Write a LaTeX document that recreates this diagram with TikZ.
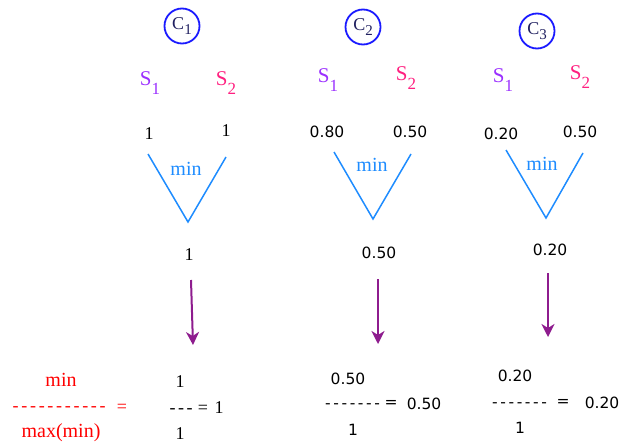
\documentclass[tikz,border=0pt]{standalone}
\usepackage{fontspec}
\setmainfont{Liberation Serif}
\newfontfamily\sansnum{DejaVu Sans}
\usetikzlibrary{arrows.meta}
\definecolor{cblue}{HTML}{1A1AFF}
\definecolor{cnavy}{HTML}{202060}
\definecolor{spurple}{HTML}{9B30FF}
\definecolor{spink}{HTML}{FF2080}
\definecolor{vblue}{HTML}{1E8CFF}
\definecolor{apurple}{HTML}{8E1C8E}
\definecolor{fred}{HTML}{FF0000}
\newcommand\ctext[1]{\textcolor{cnavy}{C\raisebox{-5pt}{\fontsize{15}{15}\selectfont #1}}}
\newcommand\stext[1]{S\raisebox{-9pt}{\fontsize{17}{17}\selectfont #1}}
\newcommand\hk[1]{-\kern#1\relax}
\tikzset{
  circ/.style={circle, draw=cblue, line width=1.8pt, minimum size=35pt, inner sep=0pt, font=\fontsize{18}{18}\selectfont},
  slab/.style={inner sep=0pt, font=\fontsize{21}{21}\selectfont},
  numsans/.style={inner sep=0pt, font=\sansnum\fontsize{15.5}{15.5}\selectfont, text height=11.3pt, text depth=0pt},
  numserif/.style={inner sep=0pt, font=\fontsize{18}{18}\selectfont, text height=11.9pt, text depth=0pt},
  xlab/.style={inner sep=0pt, font=\fontsize{20}{20}\selectfont, text height=9.1pt, text depth=0pt},
  dashrow/.style={inner sep=0pt, anchor=west, text height=8.3pt, text depth=0pt},
  eqserif/.style={inner sep=0pt, font=\fontsize{18}{18}\selectfont},
  eqsans/.style={inner sep=0pt, font=\sansnum\fontsize{15.5}{15.5}\selectfont},
  vline/.style={draw=vblue, line width=1.5pt},
  down/.style={draw=apurple, line width=2pt, -{Stealth[length=13pt,width=13pt,inset=4pt]}}
}
\begin{document}
\begin{tikzpicture}[x=1pt,y=-1pt]
\useasboundingbox (0,0) rectangle (634,444);
% circles
\node[circ] (c1) at (182,26) {\ctext{1}};
\node[circ] (c2) at (363,27) {\ctext{2}};
\node[circ] (c3) at (537,31) {\ctext{3}};
% S labels
\node[slab, text=spurple] (s1a) at (150,83) {\stext{1}};
\node[slab, text=spink]   (s1b) at (226,83) {\stext{2}};
\node[slab, text=spurple] (s2a) at (328,80) {\stext{1}};
\node[slab, text=spink]   (s2b) at (406,78) {\stext{2}};
\node[slab, text=spurple] (s3a) at (503,80) {\stext{1}};
\node[slab, text=spink]   (s3b) at (580,77) {\stext{2}};
% membership values
\node[numserif] (m1a) at (149,134) {1};
\node[numserif] (m1b) at (226,131) {1};
\node[numsans] (m2a) at (327,132) {0.80};
\node[numsans] (m2b) at (410,132) {0.50};
\node[numsans] (m3a) at (501,134) {0.20};
\node[numsans] (m3b) at (580,132) {0.50};
% V shapes
\coordinate (v1l) at (148,154); \coordinate (v1b) at (188,222); \coordinate (v1r) at (226,157);
\coordinate (v2l) at (334,152); \coordinate (v2b) at (373,219); \coordinate (v2r) at (411,154);
\coordinate (v3l) at (506,150); \coordinate (v3b) at (546,218); \coordinate (v3r) at (583,153);
\draw[vline] (v1l) -- (v1b) -- (v1r);
\draw[vline] (v2l) -- (v2b) -- (v2r);
\draw[vline] (v3l) -- (v3b) -- (v3r);
\node[xlab, text=vblue] (min1) at (186,171) {min};
\node[xlab, text=vblue] (min2) at (372,167) {min};
\node[xlab, text=vblue] (min3) at (542,166) {min};
% results
\node[numserif] (r1) at (189,255) {1};
\node[numsans] (r2) at (379,253) {0.50};
\node[numsans] (r3) at (550,250) {0.20};
% arrows
\coordinate (a1s) at (191,280); \coordinate (a1e) at (193,345);
\coordinate (a2s) at (378,279); \coordinate (a2e) at (378,344);
\coordinate (a3s) at (548,273); \coordinate (a3e) at (548,337);
\draw[down] (a1s) -- (a1e);
\draw[down] (a2s) -- (a2e);
\draw[down] (a3s) -- (a3e);
% formula (red)
\node[xlab, text=fred] (fmin) at (61,382) {min};
\node[dashrow, text=fred, font=\fontsize{18}{18}\selectfont] (fdash) at (12.5,407) {\hk{2.7pt}\hk{2.7pt}\hk{2.7pt}\hk{2.7pt}\hk{2.7pt}\hk{2.7pt}\hk{2.7pt}\hk{2.7pt}\hk{2.7pt}\hk{2.7pt}-};
\node[eqserif, text=fred] (feq) at (122,408) {=};
\node[xlab, text=fred] (fmax) at (61,433) {max(min)};
% column 1 fraction
\node[numserif] (t1) at (180,382) {1};
\node[dashrow, font=\fontsize{18}{18}\selectfont] (d1) at (169.5,409) {\hk{2.5pt}\hk{2.5pt}-};
\node[eqserif] (e1) at (203,409) {=};
\node[numserif] (q1) at (219,408) {1};
\node[numserif] (b1) at (180,434) {1};
% column 2 fraction
\node[numsans] (t2) at (348,379) {0.50};
\node[dashrow, font=\sansnum\fontsize{15.5}{15.5}\selectfont] (d2) at (325,404) {\hk{2.6pt}\hk{2.6pt}\hk{2.6pt}\hk{2.6pt}\hk{2.6pt}\hk{2.6pt}-};
\node[eqsans] (e2) at (391,404) {=};
\node[numsans] (q2) at (424,404) {0.50};
\node[numsans] (b2) at (353,430) {1};
% column 3 fraction
\node[numsans] (t3) at (515,376) {0.20};
\node[dashrow, font=\sansnum\fontsize{15.5}{15.5}\selectfont] (d3) at (492,403) {\hk{2.6pt}\hk{2.6pt}\hk{2.6pt}\hk{2.6pt}\hk{2.6pt}\hk{2.6pt}-};
\node[eqsans] (e3) at (563,403) {=};
\node[numsans] (q3) at (602,403) {0.20};
\node[numsans] (b3) at (520,428) {1};
\end{tikzpicture}
\end{document}
